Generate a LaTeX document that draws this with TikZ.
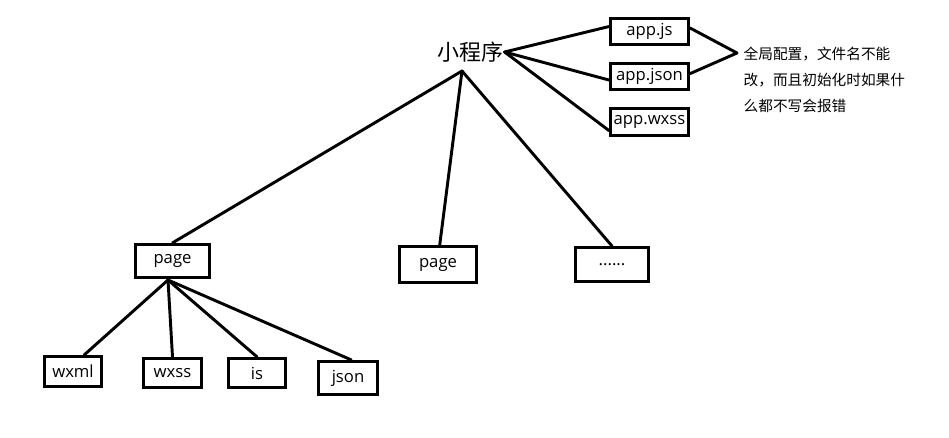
\documentclass[tikz,border=0pt]{standalone}
\usepackage{fontspec}
\setmainfont{Open Sans}
\newfontfamily\cjk{Noto Sans CJK SC}
\usepackage{tikz}

\begin{document}
\begin{tikzpicture}[x=0.75pt,y=-0.75pt]
	\tikzstyle{filebox}=[rectangle,draw=black,line width=2.2pt,inner sep=0pt,font=\fontsize{12.5}{14}\selectfont]
	\tikzstyle{link}=[line width=2.2pt,line cap=round]
	\useasboundingbox[fill=white] (0,0) rectangle (949,438);
	\node[font=\cjk\fontsize{16.5}{18}\selectfont,inner sep=1pt] (root) at (470,52) {小程序};
	\node[filebox,minimum width=58.5pt,minimum height=19.5pt] (appjs) at (649.5,31.5) {app.js};
	\node[filebox,minimum width=58.5pt,minimum height=19.5pt] (appjson) at (649.5,76.5) {app.json};
	\node[filebox,minimum width=58.5pt,minimum height=20pt] (appwxss) at (649.5,122) {app.wxss};
	\node[anchor=west,align=left,font=\cjk\fontsize{11}{19.5}\selectfont] (note) at (739,80) {全局配置，文件名不能\\改，而且初始化时如果什\\么都不写会报错};
	\coordinate (cfg) at (737,53);
	\coordinate (rootfoot) at (462,71);
	\node[filebox,minimum width=55.5pt,minimum height=25pt] (page1) at (172.5,261) {page};
	\node[filebox,minimum width=58pt,minimum height=27pt] (page2) at (438,264.5) {page};
	\node[filebox,minimum width=55pt,minimum height=25.5pt] (more) at (612,264.5) {......};
	\coordinate (pagefoot) at (168,280);
	\node[filebox,minimum width=43pt,minimum height=22.5pt] (wxml) at (73,371.5) {wxml};
	\node[filebox,minimum width=43.5pt,minimum height=22pt] (wxss) at (172.5,373) {wxss};
	\node[filebox,minimum width=43pt,minimum height=22pt] (is) at (257,373) {is};
	\node[filebox,minimum width=44pt,minimum height=25pt] (json) at (348,378) {json};
	\draw[link] (root.east) -- (appjs.173);
	\draw[link] (root.east) -- (appjson.185);
	\draw[link] (root.east) -- (appwxss.192);
	\draw[link] (appjs.5) -- (cfg);
	\draw[link] (appjson.4) -- (cfg);
	\draw[link] (rootfoot) -- (page1.north);
	\draw[link] (rootfoot) -- (page2.85);
	\draw[link] (rootfoot) -- (more.north);
	\draw[link] (pagefoot) -- (wxml.56);
	\draw[link] (pagefoot) -- (wxss.north);
	\draw[link] (pagefoot) -- (is.north);
	\draw[link] (pagefoot) -- (json.80);
\end{tikzpicture}
\end{document}
